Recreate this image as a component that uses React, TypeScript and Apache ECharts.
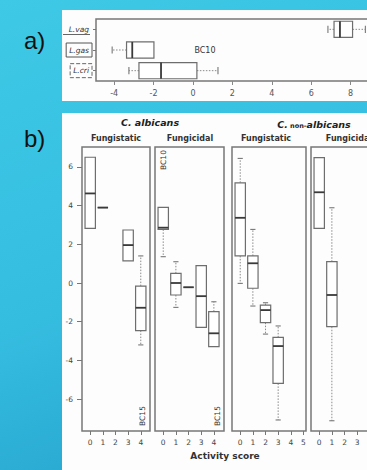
import React, { useEffect, useRef } from 'react';
import * as echarts from 'echarts';

// ---- panel a) data : [min, q1, median, q3, max]
const aCategories = ['L.vag', 'L.gas', 'L.cri'];
const aStats = [
  [6.85, 7.16, 7.46, 8.1, 8.75],
  [-4.1, -3.37, -3.08, -1.98, -1.98],
  [-3.25, -2.74, -1.62, 0.2, 1.27],
];
const aTicks = [-4, -2, 0, 2, 4, 6, 8];

// ---- panel b) data : activity score + [min, q1, median, q3, max]
const albStaticScores = [0, 1, 3, 4];
const albStaticStats = [
  [2.82, 2.82, 4.63, 6.5, 6.5],
  [3.9, 3.9, 3.9, 3.9, 3.9],
  [1.14, 1.14, 1.96, 2.74, 2.74],
  [-3.2, -2.46, -1.28, -0.16, 1.4],
];
const albCidalScores = [0, 1, 2, 3, 4];
const albCidalStats = [
  [1.36, 2.77, 2.86, 3.91, 3.91],
  [-1.26, -0.62, 0, 0.5, 1.1],
  [-0.22, -0.22, -0.22, -0.22, -0.22],
  [-2.29, -2.29, -0.68, 0.9, 0.9],
  [-3.29, -3.29, -2.6, -1.48, -0.97],
];
const nonStaticScores = [0, 1, 2, 3];
const nonStaticStats = [
  [-0.02, 1.4, 3.37, 5.18, 6.44],
  [-1.19, -0.27, 1.02, 1.4, 2.77],
  [-2.64, -2.05, -1.4, -1.14, -1.02],
  [-7.08, -5.19, -3.26, -2.81, -2.22],
];
const nonCidalScores = [0, 1];
const nonCidalStats = [
  [2.82, 2.82, 4.69, 6.48, 6.48],
  [-7.12, -2.26, -0.62, 1.1, 3.89],
];
const bYTicks = [-6, -4, -2, 0, 2, 4, 6];
const scoreTicks4 = [0, 1, 2, 3, 4];
const scoreTicks5 = [0, 1, 2, 3, 4, 5];

const FONT = 'DejaVu Sans';
const BOX_STROKE = '#6e6e6e';
const MED_STROKE = '#3a3a3a';
const WHISK = { stroke: '#8a8a8a', lineWidth: 1, lineDash: [1.5, 1.5] };
const CAP = { stroke: '#777', lineWidth: 1.1 };

function vBox(_p: any, api: any) {
  const x = api.value(0);
  const mn = api.value(1), q1 = api.value(2), md = api.value(3), q3 = api.value(4), mx = api.value(5);
  const w = api.size([0.82, 0])[0];
  const cx = api.coord([x, md])[0];
  const y = (v: number) => api.coord([x, v])[1];
  const ch: any[] = [];
  if (mn < q1) {
    ch.push({ type: 'line', shape: { x1: cx, y1: y(q1), x2: cx, y2: y(mn) }, style: WHISK });
    ch.push({ type: 'line', shape: { x1: cx - w * 0.25, y1: y(mn), x2: cx + w * 0.25, y2: y(mn) }, style: CAP });
  }
  if (mx > q3) {
    ch.push({ type: 'line', shape: { x1: cx, y1: y(q3), x2: cx, y2: y(mx) }, style: WHISK });
    ch.push({ type: 'line', shape: { x1: cx - w * 0.25, y1: y(mx), x2: cx + w * 0.25, y2: y(mx) }, style: CAP });
  }
  ch.push({ type: 'rect', shape: { x: cx - w / 2, y: y(q3), width: w, height: y(q1) - y(q3) }, style: { fill: '#fff', stroke: BOX_STROKE, lineWidth: 1.2 } });
  ch.push({ type: 'line', shape: { x1: cx - w / 2, y1: y(md), x2: cx + w / 2, y2: y(md) }, style: { stroke: MED_STROKE, lineWidth: 1.8 } });
  return { type: 'group', children: ch };
}

function hBox(_p: any, api: any) {
  const c = api.value(0);
  const mn = api.value(1), q1 = api.value(2), md = api.value(3), q3 = api.value(4), mx = api.value(5);
  const h = api.size([0, 1])[1] * 0.78;
  const cy = api.coord([md, c])[1];
  const x = (v: number) => api.coord([v, c])[0];
  const ch: any[] = [];
  if (mn < q1) {
    ch.push({ type: 'line', shape: { x1: x(q1), y1: cy, x2: x(mn), y2: cy }, style: WHISK });
    ch.push({ type: 'line', shape: { x1: x(mn), y1: cy - h * 0.22, x2: x(mn), y2: cy + h * 0.22 }, style: CAP });
  }
  if (mx > q3) {
    ch.push({ type: 'line', shape: { x1: x(q3), y1: cy, x2: x(mx), y2: cy }, style: WHISK });
    ch.push({ type: 'line', shape: { x1: x(mx), y1: cy - h * 0.22, x2: x(mx), y2: cy + h * 0.22 }, style: CAP });
  }
  ch.push({ type: 'rect', shape: { x: x(q1), y: cy - h / 2, width: x(q3) - x(q1), height: h }, style: { fill: '#fff', stroke: BOX_STROKE, lineWidth: 1.2 } });
  ch.push({ type: 'line', shape: { x1: x(md), y1: cy - h / 2, x2: x(md), y2: cy + h / 2 }, style: { stroke: MED_STROKE, lineWidth: 1.8 } });
  return { type: 'group', children: ch };
}

const gridBase = { show: true, borderColor: '#777', borderWidth: 1.5, backgroundColor: 'transparent' };

function scoreAxis(gridIndex: number, max: number, ticks: number[]) {
  return {
    type: 'value', gridIndex, min: -0.65, max, position: 'bottom',
    axisLine: { show: false, onZero: false },
    splitLine: { show: false },
    axisTick: { show: true, customValues: ticks, length: 4, lineStyle: { color: '#777' } },
    axisLabel: { show: true, customValues: ticks, fontSize: 7.5, color: '#444', margin: 7, fontFamily: FONT },
  };
}

function yAxisB(gridIndex: number, visible: boolean) {
  return {
    type: 'value', gridIndex, min: -7.65, max: 7.03, position: 'left',
    axisLine: { show: false, onZero: false },
    splitLine: { show: false },
    axisTick: { show: visible, customValues: bYTicks, length: 5, lineStyle: { color: '#777' } },
    axisLabel: { show: visible, customValues: bYTicks, fontSize: 7.5, color: '#444', margin: 9, fontFamily: FONT },
  };
}

const mk = (scores: number[], stats: number[][]) => scores.map((s, i) => [s, ...stats[i]]);

export default function App() {
  const ref = useRef<HTMLDivElement>(null);
  useEffect(() => {
    if (!ref.current) return;
    const chart = echarts.init(ref.current, null, { renderer: 'svg' });
    const option: any = {
      animation: false,
      textStyle: { fontFamily: FONT },
      grid: [
        { ...gridBase, left: 96, top: 19, width: 294, height: 62 },
        { ...gridBase, left: 82, top: 147, width: 68, height: 284 },
        { ...gridBase, left: 155, top: 147, width: 69, height: 284 },
        { ...gridBase, left: 232, top: 147, width: 74, height: 284 },
        { ...gridBase, left: 311, top: 147, width: 74, height: 284 },
      ],
      xAxis: [
        {
          type: 'value', gridIndex: 0, min: -4.92, max: 10, position: 'bottom',
          axisLine: { show: false, onZero: false }, splitLine: { show: false },
          axisTick: { show: true, customValues: aTicks, length: 4, lineStyle: { color: '#888' } },
          axisLabel: { customValues: aTicks, fontSize: 8, color: '#555', margin: 8, fontFamily: FONT },
        },
        scoreAxis(1, 4.73, scoreTicks4),
        scoreAxis(2, 4.8, scoreTicks4),
        scoreAxis(3, 5.2, scoreTicks5),
        scoreAxis(4, 5.2, scoreTicks5),
      ],
      yAxis: [
        {
          type: 'category', gridIndex: 0, data: aCategories, inverse: true, position: 'left',
          axisLine: { show: false, onZero: false },
          axisTick: { show: true, alignWithLabel: true, length: 3, lineStyle: { color: '#777' } },
          axisLabel: {
            margin: 4,
            formatter: (v: string) => (v === 'L.gas' ? '{b|' + v + '}' : v === 'L.cri' ? '{d|' + v + '}' : '{u|' + v + '}'),
            rich: {
              u: { fontSize: 7.5, fontStyle: 'italic', color: '#333', fontFamily: FONT, padding: [2, 3] },
              b: { fontSize: 7.5, fontStyle: 'italic', color: '#333', fontFamily: FONT, padding: [3, 3], borderColor: '#555', borderWidth: 1 },
              d: { fontSize: 7.5, fontStyle: 'italic', color: '#333', fontFamily: FONT, padding: [3, 3], borderColor: '#666', borderWidth: 1, borderType: 'dashed' },
            },
          },
        },
        yAxisB(1, true),
        yAxisB(2, false),
        yAxisB(3, false),
        yAxisB(4, false),
      ],
      series: [
        {
          type: 'custom', xAxisIndex: 0, yAxisIndex: 0, renderItem: hBox,
          encode: { x: [1, 2, 3, 4, 5], y: 0 },
          data: aStats.map((s, i) => [i, ...s]),
        },
        { type: 'custom', xAxisIndex: 1, yAxisIndex: 1, renderItem: vBox, encode: { x: 0, y: [1, 2, 3, 4, 5] }, data: mk(albStaticScores, albStaticStats) },
        { type: 'custom', xAxisIndex: 2, yAxisIndex: 2, renderItem: vBox, encode: { x: 0, y: [1, 2, 3, 4, 5] }, data: mk(albCidalScores, albCidalStats) },
        { type: 'custom', xAxisIndex: 3, yAxisIndex: 3, renderItem: vBox, encode: { x: 0, y: [1, 2, 3, 4, 5] }, data: mk(nonStaticScores, nonStaticStats) },
        { type: 'custom', xAxisIndex: 4, yAxisIndex: 4, renderItem: vBox, encode: { x: 0, y: [1, 2, 3, 4, 5] }, data: mk(nonCidalScores, nonCidalStats) },
      ],
      graphic: [
        { type: 'text', x: 24, y: 40, style: { text: 'a)', fontSize: 24, fontFamily: 'Liberation Sans', fill: '#111', verticalAlign: 'middle' } },
        { type: 'text', x: 24, y: 138, style: { text: 'b)', fontSize: 24, fontFamily: 'Liberation Sans', fill: '#111', verticalAlign: 'middle' } },
        { type: 'line', shape: { x1: 63, y1: 34.5, x2: 90, y2: 34.5 }, style: { stroke: '#666', lineWidth: 1 } },
        { type: 'text', x: 205, y: 50, style: { text: 'BC10', fontSize: 8, fontFamily: FONT, fill: '#333', align: 'center', verticalAlign: 'middle' } },
        { type: 'text', x: 150, y: 122, style: { text: 'C. albicans', fontSize: 9.5, fontWeight: 'bold', fontStyle: 'italic', fontFamily: FONT, fill: '#222', align: 'center', verticalAlign: 'middle' } },
        {
          type: 'text', x: 314, y: 123,
          style: {
            text: '{a|C.}{s| non-}{i|albicans}', align: 'center', verticalAlign: 'middle',
            rich: {
              a: { fontSize: 9.5, lineHeight: 12, fontWeight: 'bold', fontStyle: 'italic', fontFamily: FONT, fill: '#222', verticalAlign: 'bottom' },
              s: { fontSize: 6.5, lineHeight: 12, fontWeight: 'bold', fontFamily: FONT, fill: '#222', verticalAlign: 'bottom', padding: [0, 0, 0, 0] },
              i: { fontSize: 9.5, lineHeight: 12, fontWeight: 'bold', fontStyle: 'italic', fontFamily: FONT, fill: '#222', verticalAlign: 'bottom' },
            },
          },
        },
        { type: 'text', x: 116, y: 138, style: { text: 'Fungistatic', fontSize: 8, fontWeight: 'bold', fontFamily: FONT, fill: '#333', align: 'center', verticalAlign: 'middle' } },
        { type: 'text', x: 190, y: 138, style: { text: 'Fungicidal', fontSize: 8, fontWeight: 'bold', fontFamily: FONT, fill: '#333', align: 'center', verticalAlign: 'middle' } },
        { type: 'text', x: 266, y: 138, style: { text: 'Fungistatic', fontSize: 8, fontWeight: 'bold', fontFamily: FONT, fill: '#333', align: 'center', verticalAlign: 'middle' } },
        { type: 'text', x: 349, y: 138, style: { text: 'Fungicidal', fontSize: 8, fontWeight: 'bold', fontFamily: FONT, fill: '#333', align: 'center', verticalAlign: 'middle' } },
        { type: 'text', x: 163, y: 160, rotation: Math.PI / 2, style: { text: 'BC10', fontSize: 7.5, fontFamily: FONT, fill: '#333', align: 'center', verticalAlign: 'middle' } },
        { type: 'text', x: 142, y: 416, rotation: Math.PI / 2, style: { text: 'BC15', fontSize: 7.5, fontFamily: FONT, fill: '#333', align: 'center', verticalAlign: 'middle' } },
        { type: 'text', x: 217, y: 416, rotation: Math.PI / 2, style: { text: 'BC15', fontSize: 7.5, fontFamily: FONT, fill: '#333', align: 'center', verticalAlign: 'middle' } },
        { type: 'text', x: 225, y: 456, style: { text: 'Activity score', fontSize: 9, fontWeight: 'bold', fontFamily: FONT, fill: '#333', align: 'center', verticalAlign: 'middle' } },
      ],
    };
    chart.setOption(option);
    return () => chart.dispose();
  }, []);

  return (
    <div style={{ position: 'absolute', left: 0, top: 0, width: 367, height: 470, overflow: 'hidden', background: 'linear-gradient(160deg, #3ec9e6 0%, #35bde0 55%, #239fca 100%)' }}>
      <div style={{ position: 'absolute', left: 62, top: 10, width: 305, height: 91, background: '#fdfdfd' }} />
      <div style={{ position: 'absolute', left: 62, top: 113, width: 305, height: 357, background: '#fdfdfd' }} />
      <div ref={ref} style={{ position: 'absolute', left: 0, top: 0, width: 420, height: 470 }} />
    </div>
  );
}
